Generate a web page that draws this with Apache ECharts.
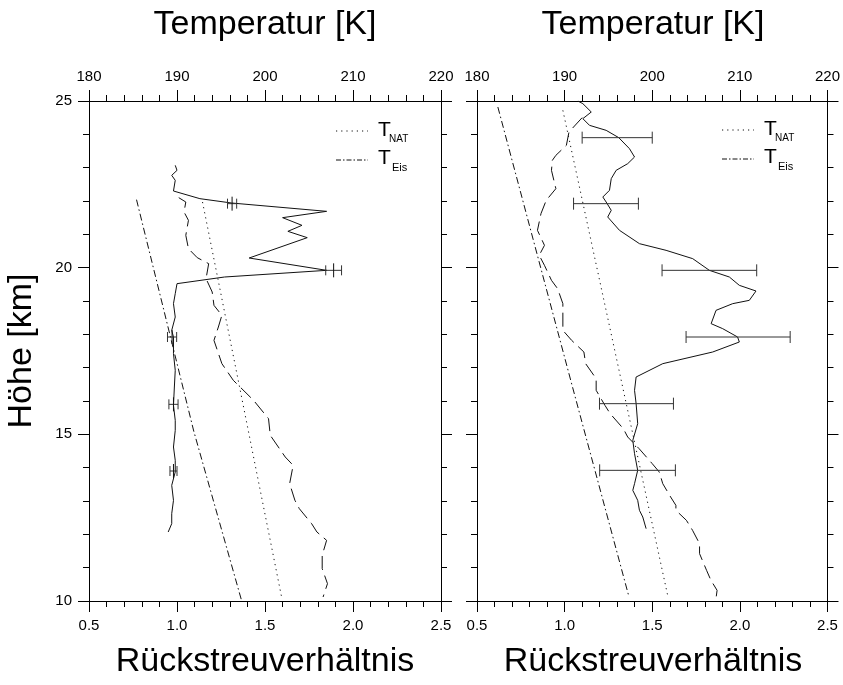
<!DOCTYPE html>
<html><head><meta charset="utf-8">
<script src="https://cdn.jsdelivr.net/npm/echarts@6/dist/echarts.min.js"></script>
<style>html,body{margin:0;padding:0;background:#fff}#c{width:843px;height:685px}</style>
</head><body><div id="c"></div>
<script>
const FONT = '"Liberation Sans", Arial, Helvetica, sans-serif';

// ---------- Left panel ----------
const L_solidAlt   = [23.07,22.92,22.77,22.62,22.30,22.07,21.94,21.69,21.50,21.27,21.09,20.90,20.29,19.92,19.72,19.52,19.22,18.92,18.52,18.12,17.92,17.42,16.92,16.42,15.87,15.42,15.12,14.62,14.22,13.87,13.47,13.02,12.62,12.32,12.07];
const L_solidRatio = [0.99,1.00,0.97,0.99,0.98,1.13,1.31,1.85,1.60,1.71,1.63,1.74,1.41,1.85,1.27,1.00,0.99,0.98,0.99,0.97,0.98,0.98,0.99,0.985,0.98,0.99,0.99,0.98,0.99,0.99,0.97,0.98,0.97,0.97,0.95];
const L_tempAlt = [22.10,21.97,21.67,21.42,20.97,20.57,20.30,20.12,19.67,19.27,18.87,18.57,18.22,17.82,17.12,16.62,16.02,15.47,14.97,14.32,14.07,13.52,13.02,12.77,12.32,12.07,11.82,11.37,10.97,10.52,10.12];
const L_temp    = [190.2,191.0,190.8,191.3,191.0,191.3,192.3,193.6,193.3,194.0,194.2,195.1,194.7,194.2,195.1,196.4,198.7,200.4,200.6,202.3,203.2,202.8,203.4,203.9,205.3,205.9,207.0,206.5,206.5,207.1,206.6];
const L_natAlt = [21.97, 10.1];
const L_nat    = [192.9, 201.9];
const L_eisAlt = [22.04, 15.1, 10.05];
const L_eis    = [185.4, 191.9, 197.3];
const L_errAlt    = [21.92, 19.92, 17.92, 15.90, 13.90];
const L_errCenter = [1.313, 1.89, 0.972, 0.98, 0.98];
const L_errHalf   = [0.026, 0.045, 0.026, 0.026, 0.02];

// ---------- Right panel ----------
const R_solidAlt   = [25.0,24.92,24.67,24.47,24.27,24.12,23.90,23.57,23.32,23.12,22.92,22.67,22.32,22.12,21.97,21.72,21.52,21.12,20.72,20.52,20.27,19.92,19.72,19.47,19.30,19.02,18.92,18.72,18.32,18.17,17.92,17.77,17.47,17.12,16.72,16.32,15.92,15.32,14.82,14.42,13.92,13.52,13.32,13.02,12.72,12.52,12.17];
const R_solidRatio = [1.076,1.104,1.152,1.104,1.142,1.237,1.309,1.370,1.399,1.360,1.294,1.266,1.256,1.218,1.237,1.266,1.246,1.313,1.427,1.579,1.731,1.826,1.940,1.997,2.092,2.054,1.959,1.864,1.836,1.902,1.987,1.997,1.845,1.560,1.408,1.399,1.408,1.417,1.389,1.399,1.417,1.399,1.389,1.417,1.427,1.446,1.465];
const R_tempAlt = [24.50,24.07,23.67,23.37,23.22,22.92,22.37,22.02,21.62,21.12,20.67,20.37,20.07,19.62,19.37,18.92,18.52,18.12,17.82,17.47,17.12,16.67,16.32,15.87,15.62,15.17,14.92,14.57,14.12,13.87,13.52,13.12,12.87,12.72,12.42,12.12,11.72,11.42,10.92,10.62,10.32,10.12];
const R_temp    = [192.0,190.5,190.2,189.0,188.6,188.5,189.0,187.9,187.3,186.9,187.7,187.1,187.7,188.5,189.2,189.8,189.8,189.8,190.8,192.2,192.4,193.6,193.6,194.6,195.2,196.7,197.2,198.5,200.0,200.8,201.2,202.1,202.7,202.7,203.9,204.6,205.4,205.4,206.2,206.7,207.4,207.3];
const R_natAlt = [24.72, 10.17];
const R_nat    = [189.8, 201.76];
const R_eisAlt = [24.82, 16.42, 10.12];
const R_eis    = [182.38, 190.9, 197.35];
const R_errAlt    = [23.90, 21.92, 19.92, 17.92, 15.92, 13.92];
const R_errCenter = [1.30, 1.236, 1.826, 1.99, 1.41, 1.416];
const R_errHalf   = [0.20, 0.185, 0.27, 0.297, 0.211, 0.216];

// ---------- Axis ticks ----------
const ratioTicks = {min: 0.5, max: 2.5, interval: 0.5};
const tempTicks  = {min: 180, max: 220, interval: 10};
const altTicks   = {min: 10, max: 25, interval: 5};

const zip = (xs, ys) => xs.map((x, i) => [x, ys[i]]);

const BLACK = '#000';
function axisBase(showLabel, fmt) {
  return {
    type: 'value',
    splitLine: {show: false},
    axisLine: {show: true, onZero: false, lineStyle: {color: BLACK, width: 1}},
    axisTick: {show: true, length: 11, lineStyle: {color: BLACK, width: 1}},
    minorTick: {show: true, splitNumber: 5, length: 6, lineStyle: {color: BLACK, width: 1}},
    minorSplitLine: {show: false},
    axisLabel: {show: showLabel, color: BLACK, fontSize: 15, fontFamily: FONT, margin: 17,
      formatter: fmt, showMinLabel: true, showMaxLabel: true}
  };
}
const xAxes = [];
const yAxes = [];
[0, 1].forEach(g => {
  xAxes.push(Object.assign(axisBase(true, v => v.toFixed(1)), {gridIndex: g, position: 'bottom'}, ratioTicks));
  xAxes.push(Object.assign(axisBase(true, v => String(v)), {gridIndex: g, position: 'top'}, tempTicks));
  yAxes.push(Object.assign(axisBase(g === 0, v => String(v)), {gridIndex: g, position: 'left'}, altTicks));
  yAxes.push(Object.assign(axisBase(false), {gridIndex: g, position: 'right'}, altTicks));
});

function lineSeries(xIdx, yIdx, xs, ys, type, width) {
  return {
    type: 'line', xAxisIndex: xIdx, yAxisIndex: yIdx,
    data: zip(ys, xs), showSymbol: false, symbol: 'none', silent: true,
    lineStyle: {color: '#111', width: width || 1, type: type},
    animation: false, z: 3
  };
}
function errSeries(xIdx, yIdx, alts, centers, halves, capH, centerTick) {
  return {
    type: 'custom', xAxisIndex: xIdx, yAxisIndex: yIdx, silent: true, animation: false,
    data: alts.map((a, i) => [centers[i], a, halves[i]]),
    encode: {x: 0, y: 1},
    renderItem: function (params, api) {
      const c = api.value(0), a = api.value(1), h = api.value(2);
      const p1 = api.coord([c - h, a]);
      const p2 = api.coord([c + h, a]);
      const pc = api.coord([c, a]);
      const st = {stroke: '#333', lineWidth: 1};
      const children = [
        {type: 'line', shape: {x1: p1[0], y1: p1[1], x2: p2[0], y2: p2[1]}, style: st},
        {type: 'line', shape: {x1: p1[0], y1: p1[1] - capH, x2: p1[0], y2: p1[1] + capH}, style: st},
        {type: 'line', shape: {x1: p2[0], y1: p2[1] - capH, x2: p2[0], y2: p2[1] + capH}, style: st}
      ];
      if (centerTick) children.push({type: 'line', shape: {x1: pc[0], y1: pc[1] - capH - 2, x2: pc[0], y2: pc[1] + capH + 2}, style: {stroke: '#111', lineWidth: 1}});
      return {type: 'group', children: children};
    },
    z: 4
  };
}

const DASH = [14, 6];
const DOT = [1.2, 4];
const DASHDOT = [7, 3, 1.5, 3];

const series = [
  lineSeries(0, 0, L_solidAlt, L_solidRatio, 'solid'),
  lineSeries(1, 0, L_tempAlt, L_temp, DASH),
  lineSeries(1, 0, L_natAlt, L_nat, DOT),
  lineSeries(1, 0, L_eisAlt, L_eis, DASHDOT),
  errSeries(0, 0, L_errAlt, L_errCenter, L_errHalf, 5, true),
  lineSeries(2, 2, R_solidAlt, R_solidRatio, 'solid'),
  lineSeries(3, 2, R_tempAlt, R_temp, DASH),
  lineSeries(3, 2, R_natAlt, R_nat, DOT),
  lineSeries(3, 2, R_eisAlt, R_eis, DASHDOT),
  errSeries(2, 2, R_errAlt, R_errCenter, R_errHalf, 6, false)
];

function txt(x, y, s, size, extra) {
  return Object.assign({type: 'text', silent: true, style: {x: x, y: y, text: s, font: size + 'px ' + FONT, fill: BLACK, textAlign: 'center', textVerticalAlign: 'middle'}}, extra || {});
}
function legendBlock(x0, yNat, yEis) {
  return [
    {type: 'line', silent: true, shape: {x1: x0, y1: yNat, x2: x0 + 32, y2: yNat}, style: {stroke: '#111', lineWidth: 1, lineDash: DOT}},
    {type: 'line', silent: true, shape: {x1: x0, y1: yEis, x2: x0 + 32, y2: yEis}, style: {stroke: '#111', lineWidth: 1, lineDash: [5, 2, 1.5, 2]}},
    {type: 'text', silent: true, style: {x: x0 + 42, y: yNat + 10, text: 'T', font: '21px ' + FONT, fill: BLACK, textAlign: 'left', textVerticalAlign: 'bottom'}},
    {type: 'text', silent: true, style: {x: x0 + 53, y: yNat + 13, text: 'NAT', font: '10px ' + FONT, fill: BLACK, textAlign: 'left', textVerticalAlign: 'bottom'}},
    {type: 'text', silent: true, style: {x: x0 + 42, y: yEis + 9, text: 'T', font: '21px ' + FONT, fill: BLACK, textAlign: 'left', textVerticalAlign: 'bottom'}},
    {type: 'text', silent: true, style: {x: x0 + 56, y: yEis + 13, text: 'Eis', font: '11px ' + FONT, fill: BLACK, textAlign: 'left', textVerticalAlign: 'bottom'}}
  ];
}

const graphic = [
  txt(265, 25, 'Temperatur [K]', 34),
  txt(653, 25, 'Temperatur [K]', 34),
  txt(265, 662, 'Rückstreuverhältnis', 34),
  txt(653, 662, 'Rückstreuverhältnis', 34),
  {type: 'text', silent: true, x: 22, y: 351, rotation: Math.PI / 2,
   style: {x: 0, y: 0, text: 'Höhe [km]', font: '34px ' + FONT, fill: BLACK, textAlign: 'center', textVerticalAlign: 'middle'}}
].concat(legendBlock(336, 131, 160), legendBlock(722, 130, 159));

const chart = echarts.init(document.getElementById('c'), null, {renderer: 'canvas'});
chart.setOption({
  backgroundColor: '#fff',
  animation: false,
  textStyle: {fontFamily: FONT},
  grid: [
    {left: 89, top: 101, width: 352, height: 500},
    {left: 477, top: 101, width: 351, height: 500}
  ],
  xAxis: xAxes,
  yAxis: yAxes,
  series: series,
  graphic: graphic
});
</script></body></html>
